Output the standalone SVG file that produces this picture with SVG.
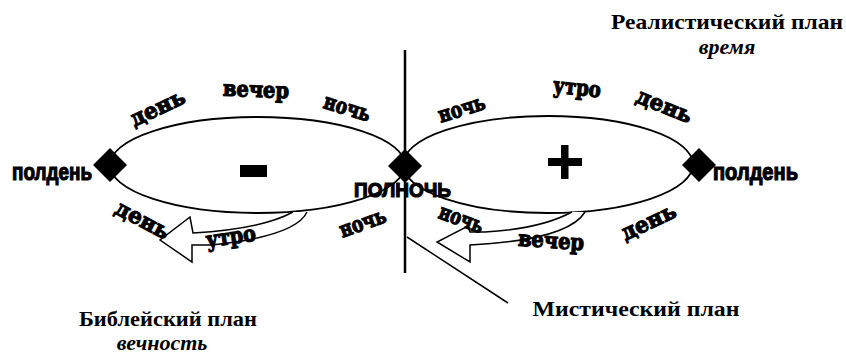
<svg xmlns="http://www.w3.org/2000/svg" width="846" height="354" viewBox="0 0 846 354">
<style>
.ell{fill:none;stroke:#000;stroke-width:1.8}
.arr{fill:#fff;stroke:#000;stroke-width:1.5;stroke-linejoin:miter}
.dia{fill:#000}
.arc{font-family:"DejaVu Serif","Liberation Serif",serif;font-weight:bold;font-size:22px;fill:#000;stroke:#000;stroke-width:1.2;text-anchor:middle}
.sans{font-family:"Liberation Sans","DejaVu Sans",sans-serif;font-weight:bold;fill:#000;stroke:#000;stroke-width:1.2}
.title{font-family:"Liberation Serif","Times New Roman",serif;font-weight:bold;font-size:22px;fill:#000;text-anchor:middle}
.ital{font-family:"Liberation Serif","Times New Roman",serif;font-weight:bold;font-style:italic;font-size:22px;fill:#000;text-anchor:middle}
.line{stroke:#000;fill:none}
</style>
<rect width="846" height="354" fill="#fff"/>
<g id="left-loop">
<ellipse class="ell" cx="257.5" cy="165" rx="147.5" ry="48"/>
<rect x="240" y="165" width="27" height="12" fill="#000"/>
</g>
<g id="right-loop">
<ellipse class="ell" cx="548" cy="164.5" rx="145" ry="48.5"/>
<rect x="548" y="158" width="34" height="8" fill="#000"/>
<rect x="561" y="145" width="7.5" height="34" fill="#000"/>
</g>
<g id="connectors">
<line class="line" x1="405" y1="50" x2="405" y2="273" stroke-width="2.5"/>
<line class="line" x1="407" y1="237" x2="508" y2="303" stroke-width="1.5"/>
</g>
<g id="arrow-left">
<path class="arr" d="M293,212 Q262,229 193,233 L190,217 L160,240 L192,262 L192,245 L212,245 Q296,236 307,212"/>
</g>
<g id="arrow-right">
<path class="arr" d="M572,212 Q540,229 485,232 L470,232 L468,226 L437,242 L470,262 L470,245 Q568,240 585,212"/>
</g>
<g id="node-noon-left">
<polygon class="dia" points="110,148 127,165 110,182 93,165"/>
<text class="sans" x="12" y="180" font-size="24" textLength="80" lengthAdjust="spacingAndGlyphs">полдень</text>
</g>
<g id="node-midnight">
<polygon class="dia" points="405,149 422,166 405,183 388,166"/>
<text class="sans" x="354" y="197" font-size="21" textLength="97" lengthAdjust="spacingAndGlyphs">ПОЛНОЧЬ</text>
</g>
<g id="node-noon-right">
<polygon class="dia" points="699,148 716,165 699,182 682,165"/>
<text class="sans" x="713" y="180" font-size="24" textLength="85" lengthAdjust="spacingAndGlyphs">полдень</text>
</g>
<g id="arc-labels">
<text class="arc" transform="translate(158,109) rotate(-25)" y="6" textLength="58" lengthAdjust="spacingAndGlyphs">день</text>
<text class="arc" transform="translate(256,91) rotate(2)" y="6" textLength="66" lengthAdjust="spacingAndGlyphs">вечер</text>
<text class="arc" transform="translate(347,109) rotate(17)" y="6" textLength="48" lengthAdjust="spacingAndGlyphs">ночь</text>
<text class="arc" transform="translate(462,110) rotate(-17)" y="6" textLength="48" lengthAdjust="spacingAndGlyphs">ночь</text>
<text class="arc" transform="translate(577,89) rotate(6)" y="6" textLength="48" lengthAdjust="spacingAndGlyphs">утро</text>
<text class="arc" transform="translate(664,107) rotate(22)" y="6" textLength="58" lengthAdjust="spacingAndGlyphs">день</text>
<text class="arc" transform="translate(142,221) rotate(28)" y="6" textLength="58" lengthAdjust="spacingAndGlyphs">день</text>
<text class="arc" transform="translate(231,238) rotate(-8)" y="6" textLength="50" lengthAdjust="spacingAndGlyphs">утро</text>
<text class="arc" transform="translate(363,224) rotate(-20)" y="6" textLength="48" lengthAdjust="spacingAndGlyphs">ночь</text>
<text class="arc" transform="translate(461,220) rotate(20)" y="6" textLength="46" lengthAdjust="spacingAndGlyphs">ночь</text>
<text class="arc" transform="translate(551,242) rotate(4)" y="6" textLength="66" lengthAdjust="spacingAndGlyphs">вечер</text>
<text class="arc" transform="translate(649,223) rotate(-25)" y="6" textLength="58" lengthAdjust="spacingAndGlyphs">день</text>
</g>
<g id="label-realistic">
<text class="title" x="727" y="29" textLength="232" lengthAdjust="spacingAndGlyphs">Реалистический план</text>
<text class="ital" x="727" y="54">время</text>
</g>
<g id="label-biblical">
<text class="title" x="168" y="326" textLength="178" lengthAdjust="spacingAndGlyphs">Библейский план</text>
<text class="ital" x="162" y="350">вечность</text>
</g>
<g id="label-mystical">
<text class="title" x="636" y="316" textLength="207" lengthAdjust="spacingAndGlyphs">Мистический план</text>
</g>
</svg>
